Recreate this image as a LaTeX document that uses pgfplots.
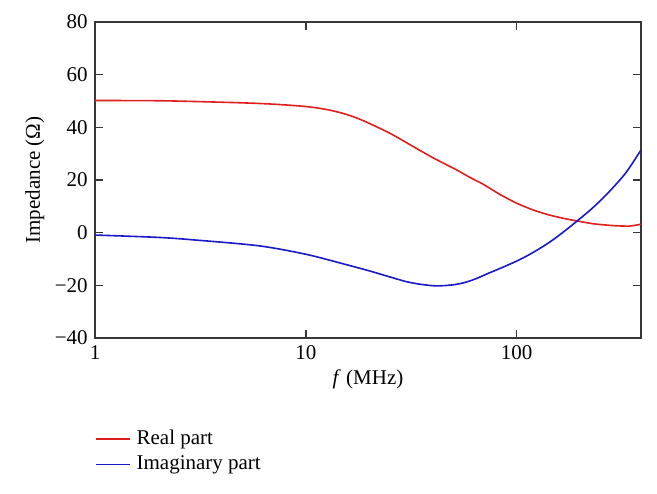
\documentclass[border=0pt]{standalone}
\usepackage{fontspec}
\setmainfont{Liberation Serif}
\usepackage{pgfplots}
\pgfplotsset{compat=1.18}
\definecolor{realred}{RGB}{225,30,30}
\definecolor{imagblue}{RGB}{25,25,200}
\definecolor{axgray}{RGB}{55,55,55}
\begin{document}
\fontsize{10.5}{12.5}\selectfont
\begin{tikzpicture}
\begin{axis}[
  name=ax,
  scale only axis,
  width=273pt, height=158pt,
  xmode=log,
  xmin=1, xmax=389,
  ymin=-40, ymax=80,
  xtick={1,10,100},
  xticklabels={1,10,100},
  ytick={-40,-20,0,20,40,60,80},
  yticklabels={−40,−20,0,20,40,60,80},
  xminorticks=false,
  tick align=inside,
  major tick length=4pt,
  axis line style={axgray, line width=0.8pt},
  tick style={axgray, line width=0.8pt},
  xlabel={\textit{f} (MHz)},
  ylabel={Impedance (Ω)},
  xlabel style={yshift=2pt},
  ylabel style={yshift=-2pt},
  legend style={draw=none, at={(-0.012,-0.265)}, anchor=north west,
    nodes={inner xsep=3pt}},
  legend cell align=left,
]
\addplot[color=realred, line width=0.8pt, tension=0.5, smooth] coordinates {
  (1,50.2) (2,50.1) (3,49.8) (5,49.3) (7,48.8) (10,47.9) (12.5,46.8) (15,45.3)
  (17.5,43.5) (20,41.5) (25,37.8) (30,34.2) (40,28.5) (52,23.8) (60,21.0) (70,18.2)
  (83,14.6) (100,11.2) (120,8.6) (143,6.7) (170,5.3) (192,4.5) (230,3.4)
  (266,2.9) (300,2.6) (343,2.5) (370,2.9) (389,3.2)
};
\addlegendentry{Real part}
\addplot[color=imagblue, line width=0.8pt, tension=0.5, smooth] coordinates {
  (1,-0.9) (2,-1.8) (3,-2.8) (6,-5.0) (10,-8.2) (15,-11.8) (20,-14.5)
  (25,-16.8) (30,-18.6) (35,-19.6) (41.6,-20.2) (50,-19.8) (57.5,-18.8)
  (65,-17.3) (71.6,-15.8) (85,-13.3) (100,-10.8) (115,-8.3) (133,-5.3)
  (150,-2.5) (170,0.8) (192,4.2) (230,9.5) (275,15.6) (330,22.8) (389,31.4)
};
\addlegendentry{Imaginary part}
\end{axis}
\path[use as bounding box] ([xshift=-47.5pt,yshift=-77.5pt]ax.south west)
  rectangle ([xshift=8pt,yshift=11pt]ax.north east);
\end{tikzpicture}
\end{document}
